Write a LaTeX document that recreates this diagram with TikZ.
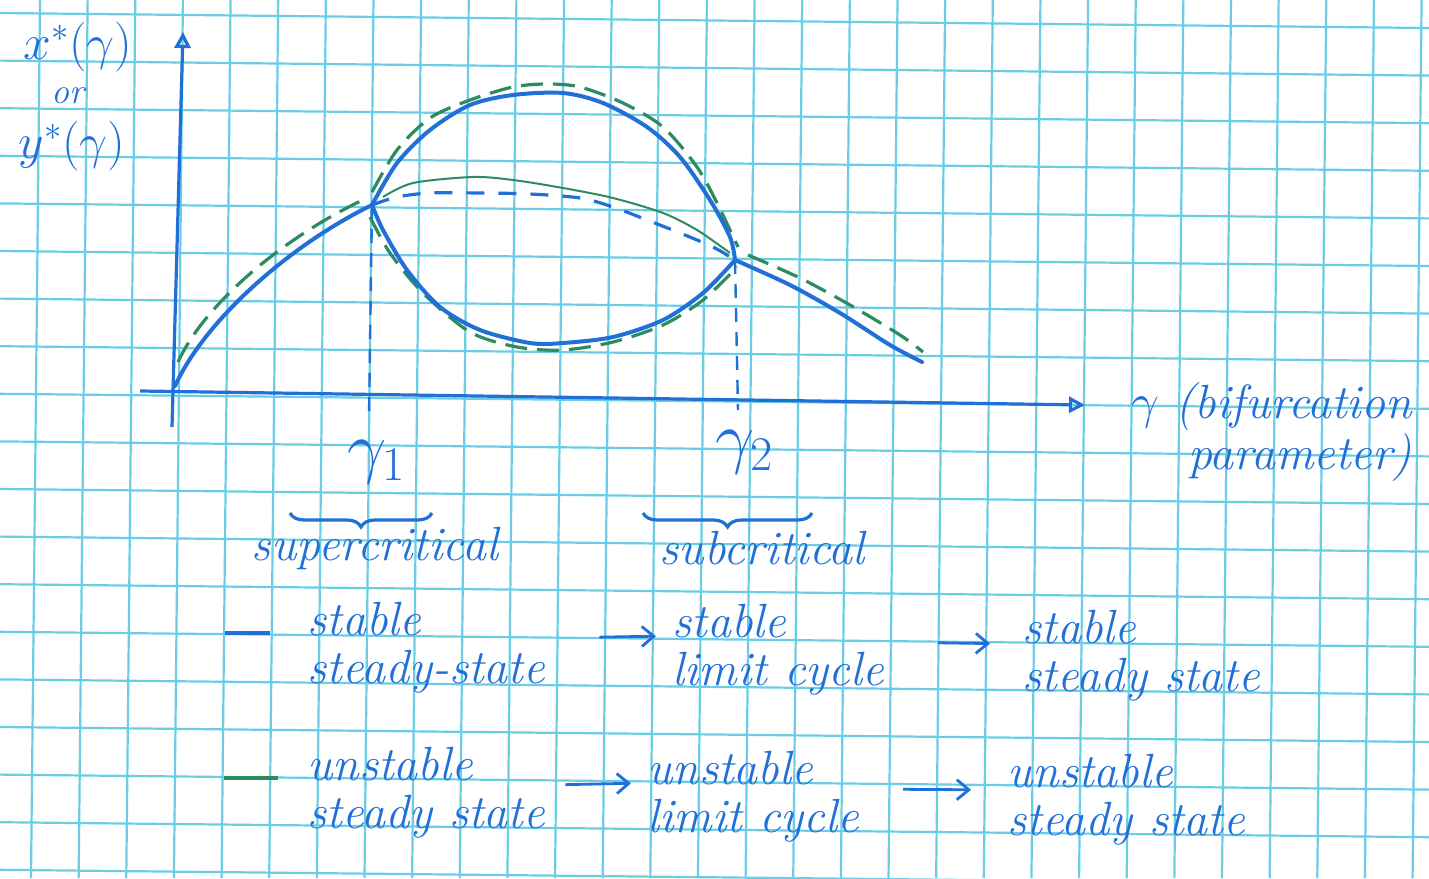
\documentclass[tikz,border=0pt]{standalone}
\usetikzlibrary{arrows.meta,decorations.pathreplacing}
\definecolor{ink}{RGB}{32,112,215}
\definecolor{greenink}{RGB}{45,140,95}
\definecolor{gridcyan}{RGB}{105,205,230}

\begin{document}
\begin{tikzpicture}[x=0.5pt,y=-0.5pt,
    gridline/.style={gridcyan,line width=1.1pt},
    axisline/.style={ink,line width=1.6pt,-{Triangle[open,length=8pt,width=8pt]}},
    stablecurve/.style={ink,line width=2pt,line cap=round},
    unstablecurve/.style={ink,line width=1.6pt,dash pattern=on 9pt off 7pt},
    greendash/.style={greenink,line width=1.6pt,dash pattern=on 11pt off 5pt},
    greenthin/.style={greenink,line width=1pt},
    guide/.style={ink,line width=1.2pt,dash pattern=on 7pt off 5pt},
    hand/.style={text=ink,font=\fontsize{24}{24}\selectfont\itshape,inner sep=2pt},
    legtext/.style={hand,align=left,anchor=west},
    legarrow/.style={ink,line width=1.4pt,-{Straight Barb[length=6pt,width=10pt]}},
    curly/.style={ink,line width=1.6pt,decorate,decoration={brace,mirror,amplitude=7pt}}]
  % sheet of squared paper
  \fill[white] (0,0) rectangle (1429,878);
  \useasboundingbox (0,0) rectangle (1429,878);
  \begin{scope}
    \clip (0,0) rectangle (1429,878);
    \foreach \k in {0,...,29}
      \draw[gridline] ({40+47.64*\k},0) -- ({31+47.64*\k},878);
    \foreach \j in {0,...,18}
      \draw[gridline] (0,{13+47.6*\j}) -- (1429,{28+47.6*\j});
  \end{scope}

  % axes
  \draw[axisline] (172,427) -- (183,32);
  \draw[axisline] (140,391) -- (1085,405);
  \node[hand] (ylabx) at (78,47) {$x^*(\gamma)$};
  \node[hand,font=\fontsize{18}{18}\selectfont\itshape] (ylabor) at (68,96) {or};
  \node[hand] (ylaby) at (72,146) {$y^*(\gamma)$};
  \node[hand,align=right,anchor=east] (xlab) at (1416,432) {$\gamma$ (bifurcation\\parameter)};

  % bifurcation points
  \coordinate (g1) at (372,205);
  \coordinate (g2) at (735,260);

  % steady state branch before and after the loop
  \draw[greendash] (178,362) .. controls (205,303) and (285,236) .. (367,198);
  \draw[stablecurve] (175,386) .. controls (205,320) and (290,245) .. (g1);
  \draw[greendash] plot[smooth] coordinates {(748,255) (800,278) (850,305) (900,335) (923,352)};
  \draw[stablecurve] plot[smooth] coordinates {(g2) (790,285) (840,313) (890,345) (922,362)};

  % unstable steady state between g1 and g2
  \draw[greenthin] plot[smooth] coordinates {(383,197) (413,183) (473,177) (513,180) (563,188) (613,198) (663,213) (697,230) (730,253)};
  \draw[unstablecurve] plot[smooth] coordinates {(g1) (397,197) (430,193) (480,193) (530,194) (580,198) (613,207) (647,220) (680,233) (713,247) (g2)};

  % limit cycle amplitude
  \draw[greendash] plot[smooth] coordinates {(372,192) (397,150) (430,118) (470,100) (513,87) (547,84) (580,87) (623,103) (663,127) (697,167) (717,203) (738,247)};
  \draw[greendash] plot[smooth] coordinates {(370,217) (390,253) (423,293) (470,332) (517,347) (563,350) (613,342) (663,325) (703,300) (737,267)};
  \draw[stablecurve] plot[smooth] coordinates {(g1) (397,163) (430,130) (470,105) (513,95) (563,93) (603,103) (647,127) (680,157) (710,200) (730,237) (g2)};
  \draw[stablecurve] plot[smooth] coordinates {(g1) (383,230) (407,270) (440,307) (480,330) (530,343) (563,343) (613,337) (663,320) (703,293) (g2)};

  % guides down to the axis
  \draw[guide] (g1) -- (369,418);
  \draw[guide] (g2) -- (738,410);
  \node[hand,scale=1.4] (gam1) at (377,462) {$\gamma_1$};
  \node[hand,scale=1.4] (gam2) at (745,452) {$\gamma_2$};

  % braces
  \draw[curly] (290,513) -- (432,513);
  \draw[curly] (643,513) -- (812,513);
  \node[hand] (sup) at (375,548) {supercritical};
  \node[hand] (sub) at (762,548) {subcritical};

  % legend
  \draw[ink,line width=2pt] (225,633) -- (270,633);
  \draw[greenink,line width=2.2pt] (224,778) -- (278,778);
  \node[legtext] (sa) at (303,648) {stable\\steady-state};
  \node[legtext] (sb) at (668,650) {stable\\limit cycle};
  \node[legtext] (sc) at (1018,656) {stable\\steady state};
  \node[legtext] (ua) at (303,793) {unstable\\steady state};
  \node[legtext] (ub) at (643,797) {unstable\\limit cycle};
  \node[legtext] (uc) at (1003,800) {unstable\\steady state};
  \draw[legarrow,shorten <=25pt,shorten >=6pt] ([yshift=5pt]sa.east) -- ([yshift=7pt]sb.west);
  \draw[legarrow,shorten <=25pt,shorten >=14pt] ([yshift=4pt]sb.east) -- ([yshift=6pt]sc.west);
  \draw[legarrow,shorten <=8pt,shorten >=6pt] ([yshift=4pt]ua.east) -- ([yshift=7pt]ub.west);
  \draw[legarrow,shorten <=20pt,shorten >=16pt] ([yshift=4pt]ub.east) -- ([yshift=5pt]uc.west);
\end{tikzpicture}
\end{document}
